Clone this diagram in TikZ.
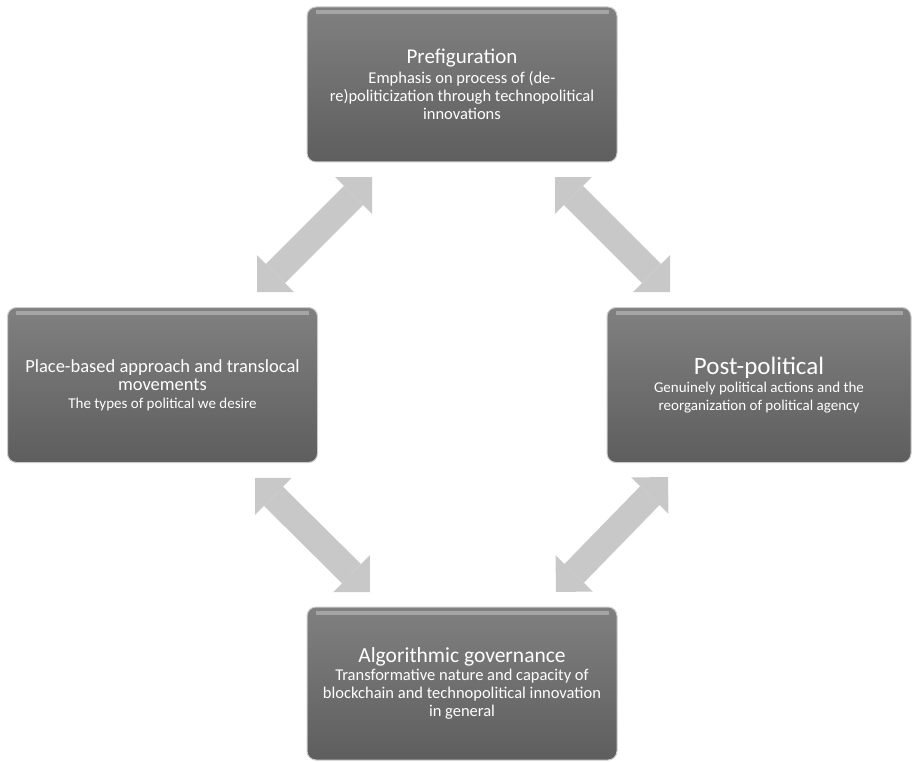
\documentclass[tikz,border=0pt]{standalone}
\usepackage{fontspec}
\setmainfont{Carlito}
\usetikzlibrary{arrows.meta}

\definecolor{boxtop}{RGB}{128,128,128}
\definecolor{boxbottom}{RGB}{94,94,94}
\definecolor{arrowgray}{RGB}{200,200,200}

\tikzset{
  box/.style = {rectangle, rounded corners = 9pt, draw = gray!40, line width = 1pt,
    top color = boxtop, bottom color = boxbottom, text = white, align = center,
    minimum width = 310pt, minimum height = 155pt, inner sep = 2pt,
    font = \fontsize{15}{18}\selectfont},
  link/.style = {draw = arrowgray, line width = 27pt, <->,
    >= {Triangle[width = 52pt, length = 26pt, line width = 0pt]}}
}

\begin{document}
\begin{tikzpicture}[x = 1pt, y = -1pt]
  \useasboundingbox (0, 0) rectangle (912, 762);

  \node[box, font = \fontsize{16.5}{18.3}\selectfont] (pre) at (462, 84.5)
    {{\fontsize{21}{18}\selectfont Prefiguration}\\[1pt]
     Emphasis on process of (de-\\re)politicization through technopolitical\\innovations};
  \node[box] (place) at (162.5, 385)
    {{\fontsize{18.5}{18}\selectfont Place-based approach and translocal}\\
     {\fontsize{18.5}{18}\selectfont movements}\\The types of political we desire};
  \node[box, minimum width = 304pt] (post) at (759, 385)
    {{\fontsize{25}{18}\selectfont Post-political}\\
     Genuinely political actions and the\\reorganization of political agency};
  \node[box, minimum height = 153pt, font = \fontsize{16.5}{18}\selectfont] (algo) at (462, 683.5)
    {{\fontsize{21.5}{18}\selectfont Algorithmic governance}\\
     Transformative nature and capacity of\\blockchain and technopolitical innovation\\in general};

  % light band along the top of each box
  \foreach \b in {pre, place, post, algo} {
    \draw[white, opacity = 0.3, line width = 4pt]
      ([xshift = 9pt, yshift = -6pt]\b.north west) -- ([xshift = -9pt, yshift = -6pt]\b.north east);
  }

  \coordinate (place-up) at (257, 292);
  \coordinate (pre-left) at (372, 177);
  \coordinate (pre-right) at (555, 177);
  \coordinate (post-up) at (670, 292);
  \coordinate (place-down) at (255, 478);
  \coordinate (algo-left) at (370, 592);
  \coordinate (post-down) at (668, 477);
  \coordinate (algo-right) at (556, 592);

  \foreach \a/\b in {place-up/pre-left, pre-right/post-up, place-down/algo-left, post-down/algo-right} {
    \draw[link] (\a) -- (\b);
  }

\end{tikzpicture}
\end{document}
